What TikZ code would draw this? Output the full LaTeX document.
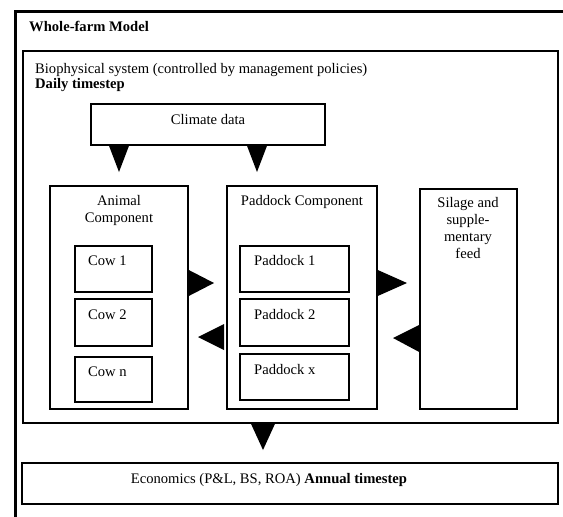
\documentclass[tikz,border=0pt]{standalone}
\usepackage{fontspec}
\setmainfont{Liberation Serif}
\usetikzlibrary{fit}
\begin{document}
\begin{tikzpicture}[x=1pt,y=-1pt,
  box/.style={draw,line width=1.6pt,inner sep=0pt,rectangle},
  txt/.style={inner sep=0pt,font=\fontsize{14.6}{17}\selectfont},
  tri/.style={fill=black}]
\useasboundingbox (0,0) rectangle (563,517);
% outer whole-farm box (runs past right and bottom edge)
\draw[line width=3pt] (15,560) -- (15,11) -- (600,11);
\node[txt,anchor=west,font=\fontsize{14.6}{17}\selectfont\bfseries] (title) at (29,26) {Whole-farm Model};
% biophysical system
\node[box,fit={(23,51) (558,423)}] (bio) {};
\node[txt,anchor=west] (biotxt) at (35,70) {Biophysical system (controlled by management policies)};
\node[txt,anchor=west,font=\fontsize{14.6}{17}\selectfont\bfseries] (daily) at (35,85) {Daily timestep};
% climate
\node[box,fit={(91,104) (325,145)}] (climate) {};
\node[txt] (climtxt) at (208,120) {Climate data};
% components
\node[box,fit={(50,186) (188,409)}] (animal) {};
\node[txt,align=center,anchor=north] (animtxt) at (119,195) {Animal\\Component};
\node[box,fit={(227,186) (377,409)}] (paddock) {};
\node[txt,anchor=north] (padtxt) at (302,195) {Paddock Component};
\node[box,fit={(420,189) (517,409)}] (silage) {};
\node[txt,align=center,anchor=north] (siltxt) at (468,197) {Silage and\\supple-\\mentary\\feed};
% cows
\node[box,fit={(75,246) (152,292)}] (cow1) {};
\node[box,fit={(75,299) (152,346)}] (cow2) {};
\node[box,fit={(75,357) (152,402)}] (cown) {};
\node[txt,anchor=west] at (88,261) {Cow 1};
\node[txt,anchor=west] at (88,315) {Cow 2};
\node[txt,anchor=west] at (88,372) {Cow n};
% paddocks
\node[box,fit={(240,246) (349,292)}] (pad1) {};
\node[box,fit={(240,299) (349,346)}] (pad2) {};
\node[box,fit={(240,354) (349,400)}] (padx) {};
\node[txt,anchor=west] at (254,261) {Paddock 1};
\node[txt,anchor=west] at (254,315) {Paddock 2};
\node[txt,anchor=west] at (254,370) {Paddock x};
% economics
\node[box,fit={(22,463) (558,504)}] (econ) {};
\node[txt] (econtxt) at (269,480) {Economics (P\&L, BS, ROA) \textbf{Annual timestep}};
% triangles
\fill[tri] (climate.south -| 109,0) -- (climate.south -| 129,0) -- (119,172) -- cycle;
\fill[tri] (climate.south -| 247,0) -- (climate.south -| 267,0) -- (257,172) -- cycle;
\fill[tri] (animal.east |- 0,270) -- (animal.east |- 0,296) -- (214,283) -- cycle;
\fill[tri] (224,324) -- (224,350) -- (198,337) -- cycle;
\fill[tri] (paddock.east |- 0,270) -- ++(0,26) -- (407,283) -- cycle;
\fill[tri] (silage.west |- 0,325) -- (silage.west |- 0,352) -- (393,338) -- cycle;
\fill[tri] (bio.south -| 251,0) -- (bio.south -| 275,0) -- (263,450) -- cycle;
\end{tikzpicture}
\end{document}
